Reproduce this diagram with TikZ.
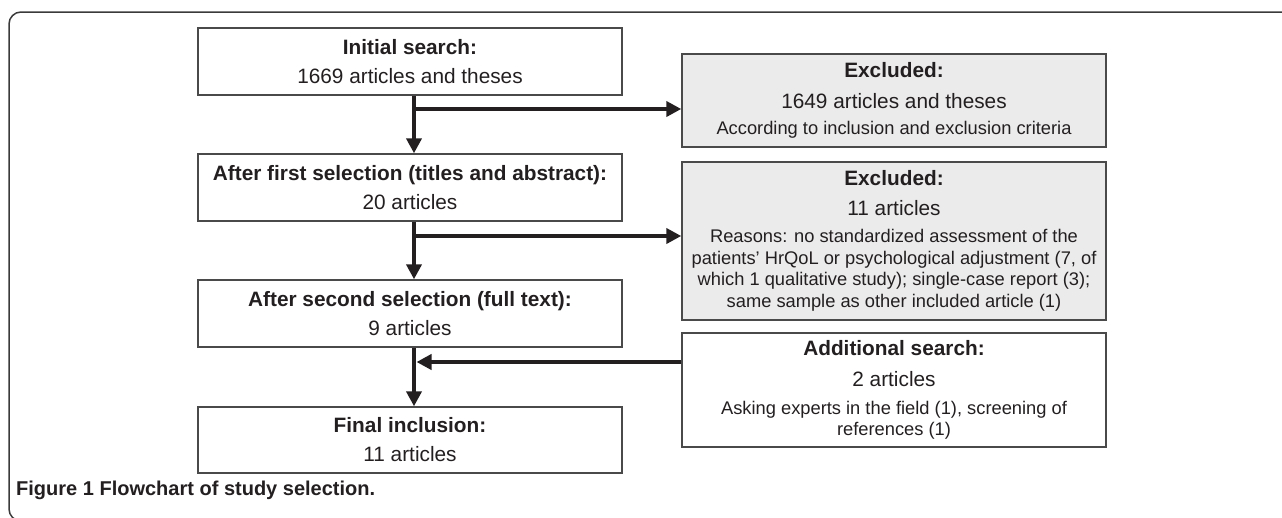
\documentclass[tikz,border=0pt]{standalone}
\usepackage{fontspec}
\setmainfont{Liberation Sans}
\usetikzlibrary{arrows.meta}
\definecolor{boxline}{HTML}{4A4A4A}
\definecolor{exfill}{HTML}{EBEBEB}
\definecolor{ink}{HTML}{231F20}
\definecolor{framecol}{HTML}{3A3A3A}
\newcommand\smtxt{\fontsize{18.3}{21.5}\selectfont}
\tikzset{
 flowbox/.style={draw=boxline, line width=1.4pt, minimum width=424pt, inner sep=0pt, align=center, text=ink, font=\fontsize{20.8}{21.5}\selectfont},
 exbox/.style={flowbox, fill=exfill},
 trunkline/.style={draw=ink, line width=4.3pt},
 arr/.style={trunkline, -{Triangle[length=15pt,width=15pt]}},
 frameline/.style={draw=framecol, line width=1.5pt, rounded corners=12pt},
 captext/.style={text=ink, inner sep=0pt, font=\fontsize{20}{24}\selectfont\bfseries}
}
\begin{document}
\begin{tikzpicture}[x=1pt,y=-1pt]
\useasboundingbox (0,0) rectangle (1282,517);
\draw[frameline] (1300,12) -- (9,12) -- (9,521) -- (1300,521);
\node[flowbox, minimum height=67pt] (init) at (410,61.5) {\textbf{Initial search:}\\[7.5pt]1669 articles and theses};
\node[flowbox, minimum height=67pt] (sel1) at (410,187.5) {\textbf{After first selection (titles and abstract):}\\[7.5pt]20 articles};
\node[flowbox, minimum height=67pt] (sel2) at (410,313.5) {\textbf{After second selection (full text):}\\[7.5pt]9 articles};
\node[flowbox, minimum height=66pt] (final) at (410,440) {\textbf{Final inclusion:}\\[7.5pt]11 articles};
\node[exbox, minimum height=93pt] (ex1) at (894,100.5) {\textbf{Excluded:}\\[9.5pt]1649 articles and theses\\[4.5pt]{\smtxt According to inclusion and exclusion criteria}};
\node[exbox, minimum height=158pt] (ex2) at (894,241) {\textbf{Excluded:}\\[8.5pt]11 articles\\[5.5pt]{\smtxt Reasons: no standardized assessment of the}\\{\smtxt patients' HrQoL or psychological adjustment (7, of}\\{\smtxt which 1 qualitative study); single-case report (3);}\\{\smtxt same sample as other included article (1)}};
\node[flowbox, minimum height=114pt] (add) at (894,390) {\textbf{Additional search:}\\[9.5pt]2 articles\\[6.5pt]{\smtxt Asking experts in the field (1), screening of}\\{\smtxt references (1)}};
\coordinate (t) at (414,0);
\coordinate (b1) at (414,109);
\coordinate (b2) at (414,236);
\coordinate (b3) at (416.5,362);
\draw[arr] (init.south -| t) -- (sel1.north -| t);
\draw[arr] (b1) -- (b1 -| ex1.west);
\draw[arr] (sel1.south -| t) -- (sel2.north -| t);
\draw[arr] (b2) -- (b2 -| ex2.west);
\draw[arr] (sel2.south -| t) -- (final.north -| t);
\draw[arr] (b3 -| add.west) -- (b3);
\node[captext, anchor=base west] (cap) at (16,495) {Figure 1 Flowchart of study selection.};
\end{tikzpicture}
\end{document}
